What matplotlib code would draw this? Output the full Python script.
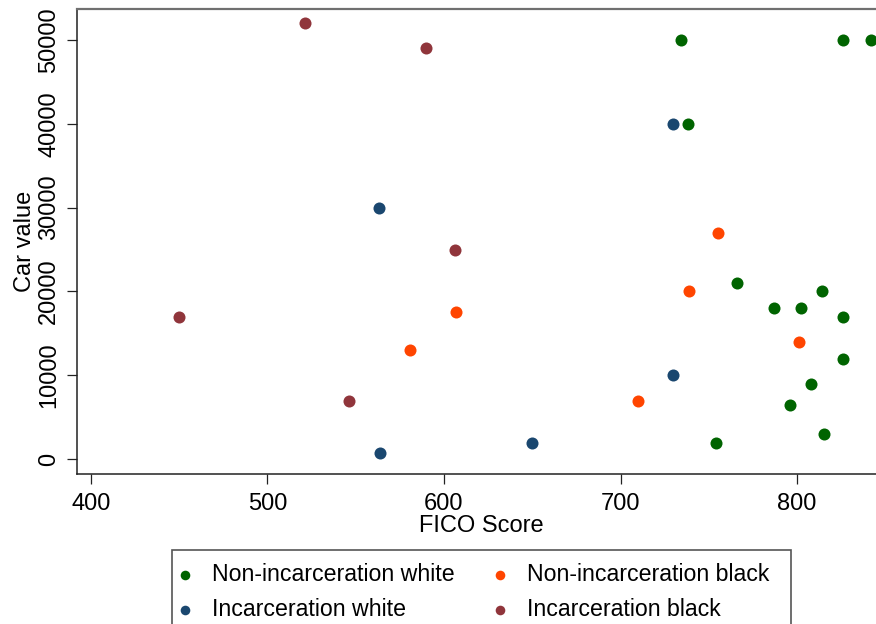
import matplotlib
matplotlib.use('Agg')
import matplotlib.pyplot as plt
from matplotlib.patches import Rectangle

# Estilo tipo Stata
plt.rcParams.update({
    'font.family': 'Liberation Sans',
    'font.size': 17,
})

# Datos
niw_x = [734, 826, 842, 738, 766, 814, 787, 802, 826, 826, 808, 796, 815, 754]
niw_y = [50000, 50000, 50000, 40000, 21000, 20000, 18000, 18000, 17000, 12000, 9000, 6500, 3000, 2000]
iw_x = [730, 563, 730, 650, 564]
iw_y = [40000, 30000, 10000, 2000, 800]
nib_x = [755, 739, 607, 801, 581, 710]
nib_y = [27000, 20000, 17500, 14000, 13000, 7000]
ib_x = [521, 590, 606, 450, 546]
ib_y = [52000, 49000, 25000, 17000, 7000]

labels = ['Non-incarceration white', 'Incarceration white',
          'Non-incarceration black', 'Incarceration black']
colors = ['#006400', '#1a476f', '#ff4500', '#90353b']
x_ticks = [400, 500, 600, 700, 800]
y_ticks = [0, 10000, 20000, 30000, 40000, 50000]

W, H = 876, 624
fig = plt.figure(figsize=(W / 100, H / 100), dpi=100)
# el área de trazado se sale un poco por la derecha, como en la imagen original
ax = fig.add_axes([77 / W, 1 - 474 / H, (886 - 77) / W, (474 - 9) / H])

series = [(niw_x, niw_y), (iw_x, iw_y), (nib_x, nib_y), (ib_x, ib_y)]
handles = []
for (xs, ys), c, lab in zip(series, colors, labels):
    h = ax.scatter(xs, ys, s=75, color=c, linewidths=0, label=lab, zorder=3)
    handles.append(h)

ax.set_xlim(392.1, 850.4)
ax.set_ylim(-1752, 53670)
ax.set_xticks(x_ticks)
ax.set_yticks(y_ticks)
ax.set_yticklabels([str(v) for v in y_ticks], rotation=90, va='center')

ax.tick_params(axis='both', direction='out', length=7, width=0.9, color='#222222')
ax.tick_params(axis='x', pad=7)
ax.tick_params(axis='y', pad=5)

for side in ['left', 'bottom']:
    ax.spines[side].set_color('#222222')
    ax.spines[side].set_linewidth(1.1)
ax.spines['top'].set_color('#707070')
ax.spines['top'].set_linewidth(1.6)
ax.spines['right'].set_visible(False)

ax.set_xlabel('FICO Score')
ax.xaxis.set_label_coords(0.5, -0.0871)
ax.set_ylabel('Car value')
ax.yaxis.set_label_coords(-0.051, 0.5)

# Leyenda sin marco + marco dibujado aparte (asimétrico como en Stata)
leg = fig.legend(handles, labels, ncol=2, frameon=False,
                 loc='upper left', bbox_to_anchor=(177.9 / W, 1 - 563 / H),
                 borderpad=0, borderaxespad=0, handlelength=0.6,
                 handletextpad=0.85, columnspacing=1.69, labelspacing=0.52,
                 markerscale=0.8, fontsize=16.7)
fig.add_artist(Rectangle((171.5 / W, 1 - 640 / H), (791 - 171.5) / W, (640 - 550) / H,
                         transform=fig.transFigure, fill=False,
                         edgecolor='#555555', linewidth=1.2))

fig.savefig('out.png', dpi=100)
